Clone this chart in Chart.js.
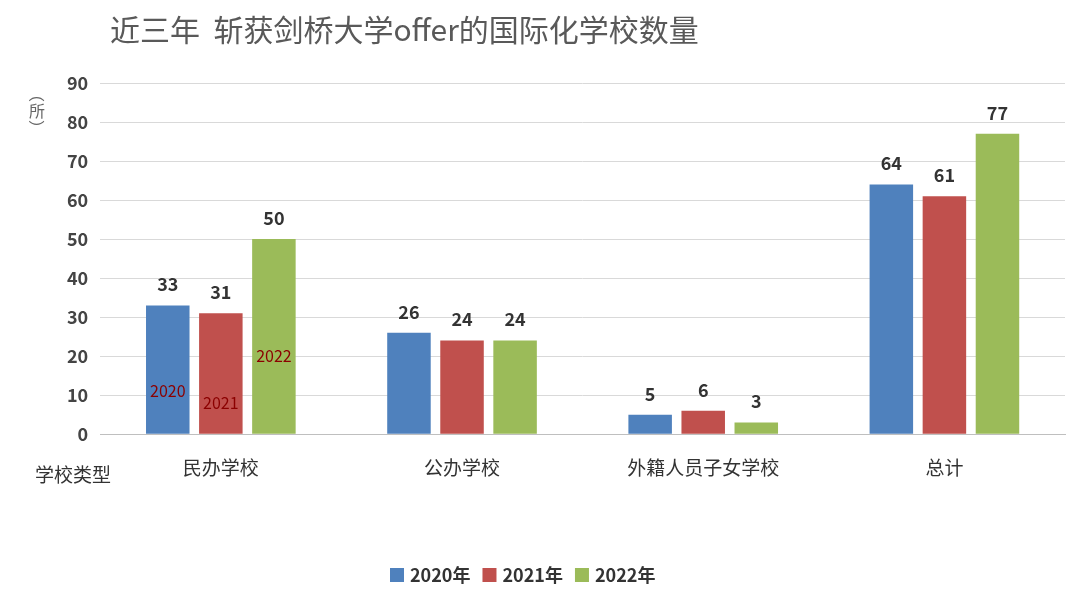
<!DOCTYPE html>
<html><head><meta charset="utf-8">
<script src="https://cdn.jsdelivr.net/npm/chart.js@4.4.0/dist/chart.umd.min.js"></script>
<style>html,body{margin:0;padding:0;background:#fff}#w{position:relative;width:1080px;height:598px}</style>
</head><body><div id="w"><canvas id="c" width="1080" height="598"></canvas></div>
<script>
const categories=["民办学校","公办学校","外籍人员子女学校","总计"];
const seriesNames=["2020年","2021年","2022年"];
const v2020=[33,26,5,64];
const v2021=[31,24,6,61];
const v2022=[50,24,3,77];
const innerLabels=["2020","2021","2022"];
const colors=["#4f81bd","#c0504d","#9bbb59"];
const FONT='"Noto Sans CJK SC","Noto Sans",sans-serif';
const deco={id:'deco',afterDatasetsDraw(ch){
 const ctx=ch.ctx;ctx.save();
 ch.data.datasets.forEach((ds,i)=>{
  ch.getDatasetMeta(i).data.forEach((b,j)=>{
   ctx.fillStyle='#333';ctx.font='bold 18px '+FONT;ctx.textAlign='center';ctx.textBaseline='bottom';
   ctx.fillText(ds.data[j],b.x,b.y-12);
   if(j===0){ctx.fillStyle='#8b0000';ctx.font='16px '+FONT;ctx.textBaseline='middle';
    ctx.fillText(innerLabels[i],b.x,ch.scales.y.getPixelForValue([11,8,20][i]));}
  });
 });
 ctx.fillStyle='#595959';ctx.font='30px '+FONT;ctx.textAlign='left';ctx.textBaseline='middle';
 ctx.fillText('近三年  斩获剑桥大学offer的国际化学校数量',110,30);
 ctx.fillStyle='#333';ctx.font='19px '+FONT;ctx.textAlign='left';
 ctx.fillText('学校类型',35,475);
 ctx.fillStyle='#666';ctx.font='16px '+FONT;ctx.textAlign='center';
 ['（','所','）'].forEach((t,k)=>{ctx.save();ctx.translate(37,94+k*17);if(k!==1)ctx.rotate(Math.PI/2);ctx.fillText(t,0,0);ctx.restore();});
 // legend
 ctx.font='bold 18px '+FONT;ctx.textAlign='left';
 let x=390;const y=575;
 seriesNames.forEach((n,i)=>{ctx.fillStyle=colors[i];ctx.fillRect(x,y-7,14,14);ctx.fillStyle='#333';ctx.fillText(n,x+20,y);x+=20+ctx.measureText(n).width+12;});
 ctx.restore();}};
new Chart(document.getElementById('c'),{type:'bar',
 data:{labels:categories,datasets:[
  {label:seriesNames[0],data:v2020,backgroundColor:colors[0]},
  {label:seriesNames[1],data:v2021,backgroundColor:colors[1]},
  {label:seriesNames[2],data:v2022,backgroundColor:colors[2]}]},
 options:{responsive:false,animation:false,
  layout:{padding:{left:55,right:15,top:83,bottom:105}},
  categoryPercentage:0.66,barPercentage:0.82,
  plugins:{legend:{display:false},tooltip:{enabled:false}},
  scales:{
   x:{grid:{display:false},border:{color:'#bfbfbf'},ticks:{color:'#333',padding:14,font:{size:19,family:FONT}}},
   y:{min:0,max:90,ticks:{stepSize:10,color:'#444',padding:12,font:{size:18,weight:'bold',family:FONT}},grid:{color:'#d9d9d9',drawTicks:false},border:{display:false}}
  }}, plugins:[deco]});
</script></body></html>
